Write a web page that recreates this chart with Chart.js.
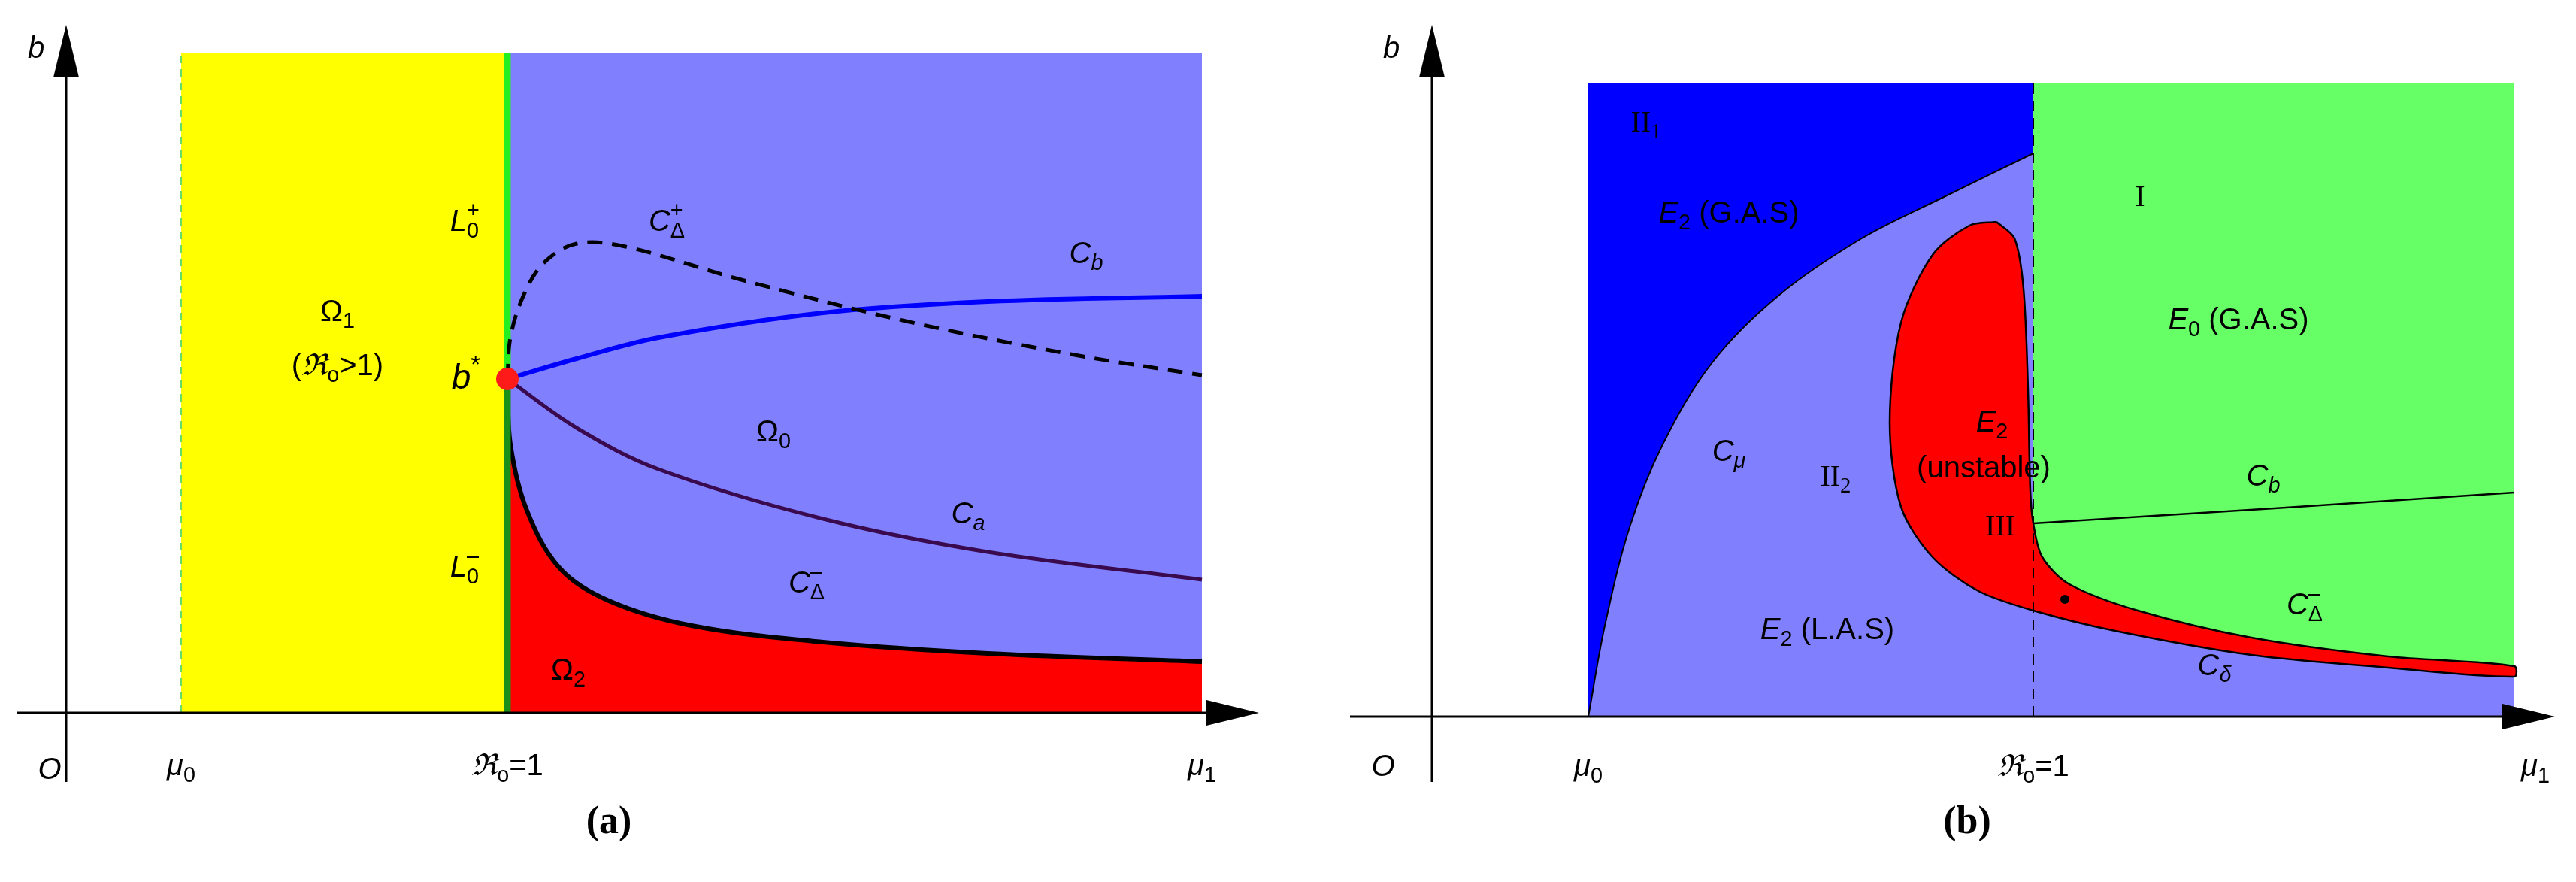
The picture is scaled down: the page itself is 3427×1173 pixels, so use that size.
<!DOCTYPE html>
<html>
<head>
<meta charset="utf-8">
<script src="https://cdn.jsdelivr.net/npm/chart.js@4"></script>
<style>
  body { margin: 0; background: #fff; }
  .panel { position: absolute; top: 0; height: 1173px; }
</style>
</head>
<body>
<div class="panel" style="left:0;width:1713px"><canvas id="chartA"></canvas></div>
<div class="panel" style="left:1713px;width:1714px"><canvas id="chartB"></canvas></div>
<script>
// ---- panel (a) data ----
const aMu0 = 1.53, aR0 = 5.87, aMu1 = 15.11, aTop = 8.78, aBstar = 4.44;
const cbAX = [5.87, 6.79, 7.88, 10.07, 12.26, 15.11];
const cbAY = [4.44, 4.71, 4.99, 5.32, 5.47, 5.54];
const cdpX = [5.87, 5.91, 6.08, 6.35, 6.79, 7.44, 8.98, 11.17, 13.36, 15.11];
const cdpY = [4.44, 4.99, 5.54, 5.98, 6.24, 6.20, 5.76, 5.21, 4.77, 4.49];
const caX = [5.87, 6.79, 7.88, 10.07, 12.26, 15.11];
const caY = [4.44, 3.79, 3.24, 2.58, 2.14, 1.77];
const cdmAX = [5.87, 5.91, 6.13, 6.57, 7.22, 8.32, 10.07, 12.26, 15.11];
const cdmAY = [4.44, 3.57, 2.69, 1.92, 1.49, 1.16, 0.94, 0.79, 0.68];

// ---- panel (b) data ----
const bMu0 = 2.08, bR0 = 8.00, bMu1 = 14.40, bTop = 8.43;
const cmuX = [2.08, 2.30, 2.63, 3.07, 3.73, 4.60, 5.70, 6.79, 8.00];
const cmuY = [0, 1.21, 2.52, 3.62, 4.71, 5.59, 6.35, 6.90, 7.49];
const blobX = [7.51, 7.75, 7.87, 7.93, 7.96, 8.00, 8.12, 8.48, 9.39, 10.90, 12.72, 14.40,
               14.40, 12.72, 10.90, 9.09, 8.00, 7.27, 6.66, 6.24, 6.09, 6.24, 6.66, 7.15, 7.51];
const blobY = [6.58, 6.36, 5.69, 4.35, 3.01, 2.57, 2.12, 1.76, 1.41, 1.05, 0.80, 0.67,
               0.53, 0.65, 0.82, 1.14, 1.41, 1.67, 2.12, 2.79, 3.91, 5.24, 6.14, 6.53, 6.58];
const cdmBX = [8.00, 8.12, 8.48, 9.39, 10.90, 12.72, 14.40];
const cdmBY = [2.57, 2.12, 1.76, 1.41, 1.05, 0.80, 0.67];
const cdelX = [8.00, 9.09, 10.90, 12.72, 14.40];
const cdelY = [1.41, 1.14, 0.82, 0.65, 0.53];
const cbBX = [8.00, 11.21, 14.40];
const cbBY = [2.57, 2.77, 2.98];

const pts = (xs, ys) => xs.map((x, i) => ({ x, y: ys[i] }));

const F = '"Liberation Sans", Arial, sans-serif';
const SERIF = '"Liberation Serif", "Times New Roman", serif';

// label: array of parts {t, i (italic), sub, sup, serif}
function drawLabel(ctx, x, y, parts, size) {
  const fontOf = (p, s) => (p.i ? 'italic ' : '') + s + 'px ' + (p.serif ? SERIF : F);
  let w = 0;
  parts.forEach(p => {
    const s = (p.sub || p.sup) ? size * 0.72 : size;
    ctx.font = fontOf(p, s);
    p._w = ctx.measureText(p.t).width;
    if (!p.stack) w += p._w;
  });
  let cx = x - w / 2;
  ctx.textBaseline = 'middle';
  ctx.textAlign = 'left';
  ctx.fillStyle = '#000';
  let lastX = cx;
  parts.forEach(p => {
    const s = (p.sub || p.sup) ? size * 0.72 : size;
    ctx.font = fontOf(p, s);
    let dy = p.sub ? size * 0.3 : p.sup ? -size * 0.38 : 0;
    const px = p.stack ? lastX : cx;
    ctx.fillText(p.t, px, y + dy);
    if (!p.stack) { lastX = cx; cx += p._w; }
  });
}

function axesPlugin(labels, caption, xAxisStart, yAxisBottom) {
  return {
    id: 'deco',
    afterDatasetsDraw(chart) {
      const ctx = chart.ctx, xs = chart.scales.x, ys = chart.scales.y;
      const ox = xs.getPixelForValue(0), oy = ys.getPixelForValue(0);
      const ca = chart.chartArea;
      ctx.save();
      ctx.strokeStyle = '#000'; ctx.fillStyle = '#000'; ctx.lineWidth = 3;
      ctx.beginPath();
      ctx.moveTo(xs.getPixelForValue(xAxisStart), oy); ctx.lineTo(ca.right - 40, oy);
      ctx.moveTo(ox, ys.getPixelForValue(yAxisBottom)); ctx.lineTo(ox, ca.top + 40);
      ctx.stroke();
      ctx.beginPath();
      ctx.moveTo(ca.right, oy); ctx.lineTo(ca.right - 70, oy - 17); ctx.lineTo(ca.right - 70, oy + 17); ctx.closePath();
      ctx.moveTo(ox, ca.top); ctx.lineTo(ox - 17, ca.top + 70); ctx.lineTo(ox + 17, ca.top + 70); ctx.closePath();
      ctx.fill();
      labels.forEach(l => drawLabel(ctx, xs.getPixelForValue(l.x), ys.getPixelForValue(l.y), l.parts, l.size || 40));
      ctx.font = 'bold 52px ' + SERIF;
      ctx.textAlign = 'center';
      ctx.fillText(caption.t, xs.getPixelForValue(caption.x), ys.getPixelForValue(caption.y));
      ctx.restore();
    }
  };
}

function ds(data, o) {
  return Object.assign({ data, showLine: true, pointRadius: 0, borderWidth: 0, fill: false, tension: 0.35 }, o);
}

const R0 = [{ t: '\u211C', i: 1, serif: 1 }, { t: 'o', sub: 1 }, { t: '=1' }];

const commonOpts = (xmin, xmax, ymin, ymax, pad) => ({
  responsive: true, maintainAspectRatio: false, animation: false,
  layout: { padding: pad },
  plugins: { legend: { display: false }, tooltip: { enabled: false } },
  scales: {
    x: { type: 'linear', min: xmin, max: xmax, display: false },
    y: { type: 'linear', min: ymin, max: ymax, display: false }
  }
});

// ---- chart (a) ----
const labelsA = [
  { x: -0.40, y: 8.82, parts: [{ t: 'b', i: 1 }] },
  { x: -0.22, y: -0.77, parts: [{ t: 'O', i: 1 }] },
  { x: aMu0, y: -0.72, parts: [{ t: '\u03BC', i: 1 }, { t: '0', sub: 1 }] },
  { x: aR0, y: -0.72, parts: R0 },
  { x: aMu1, y: -0.72, parts: [{ t: '\u03BC', i: 1 }, { t: '1', sub: 1 }] },
  { x: 5.30, y: 6.52, parts: [{ t: 'L', i: 1 }, { t: '0', sub: 1 }, { t: '+', sup: 1, stack: 1 }] },
  { x: 5.30, y: 1.92, parts: [{ t: 'L', i: 1 }, { t: '0', sub: 1 }, { t: '\u2013', sup: 1, stack: 1 }] },
  { x: 7.99, y: 6.52, parts: [{ t: 'C', i: 1 }, { t: '\u0394', sub: 1 }, { t: '+', sup: 1, stack: 1 }] },
  { x: 9.85, y: 1.71, parts: [{ t: 'C', i: 1 }, { t: '\u0394', sub: 1 }, { t: '\u2013', sup: 1, stack: 1 }] },
  { x: 13.57, y: 6.09, parts: [{ t: 'C', i: 1 }, { t: 'b', sub: 1, i: 1 }] },
  { x: 12.0, y: 2.63, parts: [{ t: 'C', i: 1 }, { t: 'a', sub: 1, i: 1 }] },
  { x: 3.61, y: 5.32, parts: [{ t: '\u03A9' }, { t: '1', sub: 1 }] },
  { x: 3.61, y: 4.60, parts: [{ t: '(' }, { t: '\u211C', i: 1, serif: 1 }, { t: 'o', sub: 1 }, { t: '>1)' }] },
  { x: 5.32, y: 4.44, parts: [{ t: 'b', i: 1 }, { t: '*', sup: 1 }], size: 46 },
  { x: 9.41, y: 3.72, parts: [{ t: '\u03A9' }, { t: '0', sub: 1 }] },
  { x: 6.68, y: 0.55, parts: [{ t: '\u03A9' }, { t: '2', sub: 1 }] }
];

new Chart(document.getElementById('chartA'), {
  type: 'scatter',
  data: {
    datasets: [
      ds(pts([aMu0, aR0], [aTop, aTop]), { backgroundColor: '#ffff00', fill: 'origin', tension: 0, order: 20 }),
      ds(pts([aR0, aMu1], [aTop, aTop]), { backgroundColor: '#8080ff', fill: 'origin', tension: 0, order: 19 }),
      ds(pts(cdmAX, cdmAY), { backgroundColor: '#ff0000', borderColor: '#000', borderWidth: 6, fill: 'origin', order: 10 }),
      ds(pts([aMu0, aMu0], [0, aTop]), { borderColor: '#66dd66', borderWidth: 2, borderDash: [10, 8], tension: 0, order: 5 }),
      ds(pts([aR0, aR0], [aBstar, aTop]), { borderColor: '#22ee22', borderWidth: 9, tension: 0, order: 5 }),
      ds(pts([aR0, aR0], [0, aBstar]), { borderColor: '#1a8f1a', borderWidth: 9, tension: 0, order: 5 }),
      ds(pts(caX, caY), { borderColor: '#3a0a4f', borderWidth: 5, order: 4 }),
      ds(pts(cbAX, cbAY), { borderColor: '#0000ff', borderWidth: 6, order: 3 }),
      ds(pts(cdpX, cdpY), { borderColor: '#000', borderWidth: 5, borderDash: [20, 13], order: 2 }),
      { data: [{ x: aR0, y: aBstar }], pointRadius: 15, backgroundColor: '#ff1a1a', borderWidth: 0, order: 1 }
    ]
  },
  options: commonOpts(-0.66, 15.87, -0.92, 9.15, { left: 22, right: 38, top: 33, bottom: 133 }),
  plugins: [axesPlugin(labelsA, { t: '(a)', x: 7.22, y: -1.47 }, -0.66, -0.92)]
});

// ---- chart (b) ----
const labelsB = [
  { x: -0.54, y: 8.87, parts: [{ t: 'b', i: 1 }] },
  { x: -0.65, y: -0.68, parts: [{ t: 'O', i: 1 }] },
  { x: bMu0, y: -0.68, parts: [{ t: '\u03BC', i: 1 }, { t: '0', sub: 1 }] },
  { x: bR0, y: -0.68, parts: R0 },
  { x: 14.68, y: -0.68, parts: [{ t: '\u03BC', i: 1 }, { t: '1', sub: 1 }] },
  { x: 2.85, y: 7.89, parts: [{ t: 'II', serif: 1 }, { t: '1', sub: 1, serif: 1 }] },
  { x: 3.95, y: 6.68, parts: [{ t: 'E', i: 1 }, { t: '2', sub: 1 }, { t: ' (G.A.S)' }] },
  { x: 9.42, y: 6.90, parts: [{ t: 'I', serif: 1 }] },
  { x: 10.73, y: 5.26, parts: [{ t: 'E', i: 1 }, { t: '0', sub: 1 }, { t: ' (G.A.S)' }] },
  { x: 3.95, y: 3.51, parts: [{ t: 'C', i: 1 }, { t: '\u03BC', sub: 1, i: 1 }] },
  { x: 5.37, y: 3.18, parts: [{ t: 'II', serif: 1 }, { t: '2', sub: 1, serif: 1 }] },
  { x: 7.45, y: 3.90, parts: [{ t: 'E', i: 1 }, { t: '2', sub: 1 }] },
  { x: 7.34, y: 3.29, parts: [{ t: '(unstable)' }] },
  { x: 7.56, y: 2.52, parts: [{ t: 'III', serif: 1 }] },
  { x: 11.06, y: 3.18, parts: [{ t: 'C', i: 1 }, { t: 'b', sub: 1, i: 1 }] },
  { x: 11.61, y: 1.47, parts: [{ t: 'C', i: 1 }, { t: '\u0394', sub: 1 }, { t: '\u2013', sup: 1, stack: 1 }] },
  { x: 5.26, y: 1.14, parts: [{ t: 'E', i: 1 }, { t: '2', sub: 1 }, { t: ' (L.A.S)' }] },
  { x: 10.41, y: 0.66, parts: [{ t: 'C', i: 1 }, { t: '\u03B4', sub: 1, i: 1 }] }
];

new Chart(document.getElementById('chartB'), {
  type: 'scatter',
  data: {
    datasets: [
      ds(pts([bMu0, bR0], [bTop, bTop]), { backgroundColor: '#0000ff', fill: 'origin', tension: 0, order: 20 }),
      ds(pts([bR0, bMu1], [bTop, bTop]), { backgroundColor: '#66ff66', fill: 'origin', tension: 0, order: 19 }),
      ds(pts(cmuX, cmuY), { backgroundColor: '#8080ff', borderColor: '#000', borderWidth: 2, fill: 'origin', order: 18 }),
      ds(pts(cdelX, cdelY), { backgroundColor: '#8080ff', fill: 'origin', order: 17 }),
      ds(pts(blobX, blobY), { backgroundColor: '#ff0000', borderColor: '#000', borderWidth: 2.5, fill: 'shape', tension: 0.3, order: 10 }),
      ds(pts(cbBX, cbBY), { borderColor: '#000', borderWidth: 2.5, order: 5 }),
      ds(pts([bR0, bR0], [0, bTop]), { borderColor: '#000', borderWidth: 2, borderDash: [14, 9], tension: 0, order: 4 }),
      { data: [{ x: 8.42, y: 1.56 }], pointRadius: 6, backgroundColor: '#000', borderWidth: 0, order: 1 }
    ]
  },
  options: commonOpts(-1.09, 14.94, -0.87, 9.2, { left: 83, right: 28, top: 33, bottom: 133 }),
  plugins: [axesPlugin(labelsB, { t: '(b)', x: 7.12, y: -1.42 }, -1.09, -0.87)]
});
</script>
</body>
</html>
